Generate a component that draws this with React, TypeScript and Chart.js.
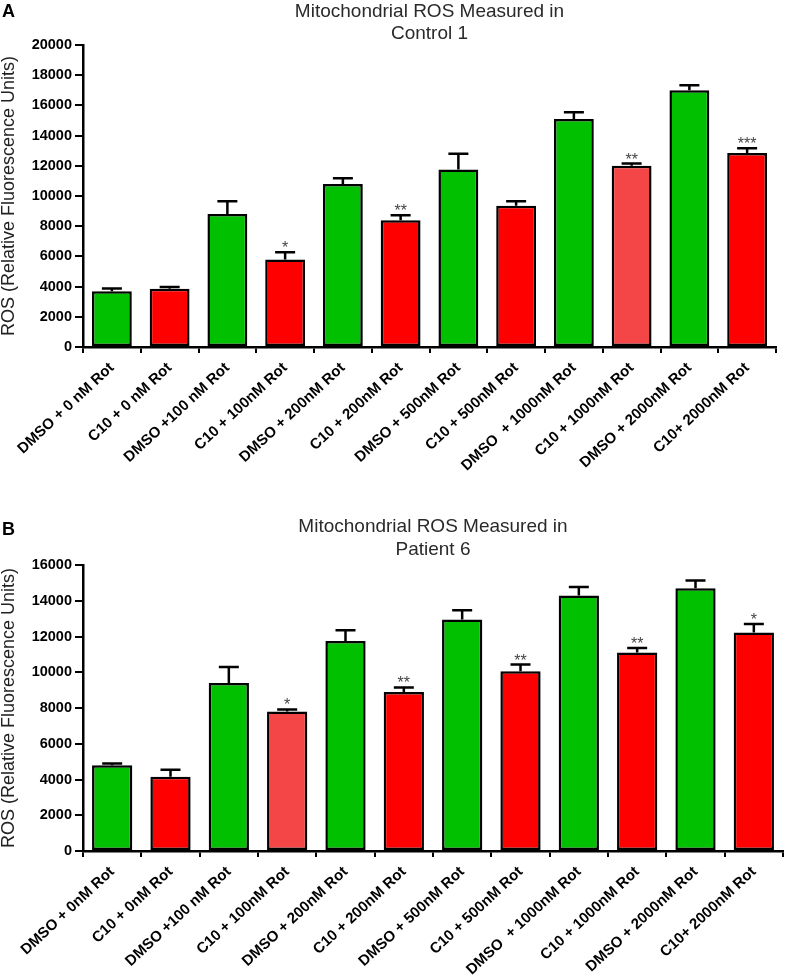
import React, { useEffect, useRef } from 'react';
import { Chart, registerables } from 'chart.js';

Chart.register(...registerables);
Chart.defaults.font.family = "'Liberation Sans', Arial, sans-serif";

const GREEN = '#00c000';
const RED = '#ff0000';
const LIGHT_RED = '#f44646';

// Panel A
const labelsA = [
  'DMSO + 0 nM Rot', 'C10 + 0 nM Rot', 'DMSO +100 nM Rot', 'C10 + 100nM Rot',
  'DMSO + 200nM Rot', 'C10 + 200nM Rot', 'DMSO + 500nM Rot', 'C10 + 500nM Rot',
  'DMSO  + 1000nM Rot', 'C10 + 1000nM Rot', 'DMSO + 2000nM Rot', 'C10+ 2000nM Rot',
];
const valuesA = [3700, 3850, 8800, 5800, 10800, 8400, 11750, 9350, 15100, 12000, 17000, 12850];
const errorsA = [180, 120, 850, 480, 370, 320, 1050, 300, 450, 150, 330, 320];
const sigA = ['', '', '', '*', '', '**', '', '', '', '**', '', '***'];
const colorsA = [GREEN, RED, GREEN, RED, GREEN, RED, GREEN, RED, GREEN, LIGHT_RED, GREEN, RED];
const titleA = ['Mitochondrial ROS Measured in', 'Control 1'];

// Panel B
const labelsB = [
  'DMSO + 0nM Rot', 'C10 + 0nM Rot', 'DMSO +100 nM Rot', 'C10 + 100nM Rot',
  'DMSO + 200nM Rot', 'C10 + 200nM Rot', 'DMSO + 500nM Rot', 'C10 + 500nM Rot',
  'DMSO  + 1000nM Rot', 'C10 + 1000nM Rot', 'DMSO + 2000nM Rot', 'C10+ 2000nM Rot',
];
const valuesB = [4800, 4150, 9400, 7800, 11750, 8900, 12950, 10050, 14300, 11100, 14700, 12230];
const errorsB = [100, 400, 900, 120, 600, 250, 520, 380, 470, 260, 430, 470];
const sigB = ['', '', '', '*', '', '**', '', '**', '', '**', '', '*'];
const colorsB = [GREEN, RED, GREEN, LIGHT_RED, GREEN, RED, GREEN, RED, GREEN, RED, GREEN, RED];
const titleB = ['Mitochondrial ROS Measured in', 'Patient 6'];

const Y_TITLE = 'ROS (Relative Fluorescence Units)';

type PanelProps = {
  letter: string;
  titleLines: string[];
  labels: string[];
  values: number[];
  errors: number[];
  sig: string[];
  colors: string[];
  yMax: number;
  areaTop: number;
  areaBottom: number;
  areaRight: number;
  titleY: number[];
  letterY: number;
  height: number;
};

function Panel(p: PanelProps) {
  const ref = useRef<HTMLCanvasElement | null>(null);
  useEffect(() => {
    if (!ref.current) return;
    const W = 787;
    const overlay = {
      id: 'overlay',
      afterDatasetsDraw(chart: any) {
        const ctx = chart.ctx;
        const meta = chart.getDatasetMeta(0);
        const ys = chart.scales.y;
        meta.data.forEach((bar: any, i: number) => {
          const x = bar.x;
          const yv = ys.getPixelForValue(p.values[i]);
          const ye = ys.getPixelForValue(p.values[i] + p.errors[i]);
          ctx.save();
          ctx.strokeStyle = '#000';
          ctx.lineWidth = 2.5;
          ctx.beginPath();
          ctx.moveTo(x, yv);
          ctx.lineTo(x, ye);
          ctx.moveTo(x - 10, ye);
          ctx.lineTo(x + 10, ye);
          ctx.stroke();
          if (p.sig[i]) {
            ctx.fillStyle = '#444';
            ctx.font = "16px 'Liberation Sans', Arial, sans-serif";
            ctx.textAlign = 'center';
            ctx.textBaseline = 'alphabetic';
            ctx.fillText(p.sig[i], x, ye + 1);
          }
          ctx.restore();
        });
      },
      afterDraw(chart: any) {
        const ctx = chart.ctx;
        const ca = chart.chartArea;
        ctx.save();
        ctx.fillStyle = '#2a2a2a';
        ctx.font = "19px 'Liberation Sans', Arial, sans-serif";
        ctx.textAlign = 'center';
        ctx.textBaseline = 'middle';
        const cx = (ca.left + ca.right) / 2;
        p.titleLines.forEach((t, i) => ctx.fillText(t, cx, p.titleY[i]));
        ctx.fillStyle = '#000';
        ctx.font = "bold 18px 'Liberation Sans', Arial, sans-serif";
        ctx.textAlign = 'left';
        ctx.fillText(p.letter, 2, p.letterY);
        ctx.restore();
      },
    };
    const xHeight = p.height - p.areaBottom;
    const chart = new Chart(ref.current, {
      type: 'bar',
      data: {
        labels: p.labels,
        datasets: [
          {
            data: p.values,
            backgroundColor: p.colors,
            borderColor: '#000',
            borderWidth: 2.5,
            borderSkipped: false,
            barPercentage: 0.69,
            categoryPercentage: 1,
          },
        ],
      },
      options: {
        responsive: false,
        animation: false,
        events: [],
        layout: { padding: { top: p.areaTop, left: 0, right: W - p.areaRight, bottom: 0 } },
        plugins: { legend: { display: false }, tooltip: { enabled: false }, title: { display: false } },
        scales: {
          x: {
            afterFit(scale: any) {
              scale.height = xHeight;
            },
            grid: { display: true, drawOnChartArea: false, drawTicks: true, tickLength: 6, color: '#000', lineWidth: 2 },
            border: { display: true, color: '#000', width: 2.5 },
            ticks: {
              autoSkip: false,
              maxRotation: 43,
              minRotation: 43,
              padding: 6,
              color: '#000',
              font: { size: 15, weight: 'bold' },
            },
          },
          y: {
            min: 0,
            max: p.yMax,
            afterFit(scale: any) {
              scale.width = 83;
            },
            grid: { display: true, drawOnChartArea: false, drawTicks: true, tickLength: 8, color: '#000', lineWidth: 2 },
            border: { display: true, color: '#000', width: 2.5 },
            ticks: {
              stepSize: 2000,
              padding: 3,
              color: '#000',
              font: { size: 14.5, weight: 'bold' },
              callback: (v: any) => String(v),
            },
            title: {
              display: true,
              text: Y_TITLE,
              color: '#222',
              padding: { top: 0, bottom: 0 },
              font: { size: 18, lineHeight: 1.0 },
            },
          },
        },
      },
      plugins: [overlay],
    } as any);
    return () => chart.destroy();
  }, []);
  return <canvas ref={ref} width={787} height={p.height} style={{ display: 'block', width: 787, height: p.height }} />;
}

export default function App() {
  return (
    <div style={{ position: 'absolute', left: 0, top: 0, width: 787, height: 980, background: '#fff' }}>
      <Panel
        letter="A"
        titleLines={titleA}
        labels={labelsA}
        values={valuesA}
        errors={errorsA}
        sig={sigA}
        colors={colorsA}
        yMax={20000}
        areaTop={45}
        areaBottom={347}
        areaRight={776}
        titleY={[12, 34]}
        letterY={12}
        height={490}
      />
      <Panel
        letter="B"
        titleLines={titleB}
        labels={labelsB}
        values={valuesB}
        errors={errorsB}
        sig={sigB}
        colors={colorsB}
        yMax={16000}
        areaTop={75}
        areaBottom={361}
        areaRight={783}
        titleY={[37, 60]}
        letterY={40}
        height={490}
      />
    </div>
  );
}
